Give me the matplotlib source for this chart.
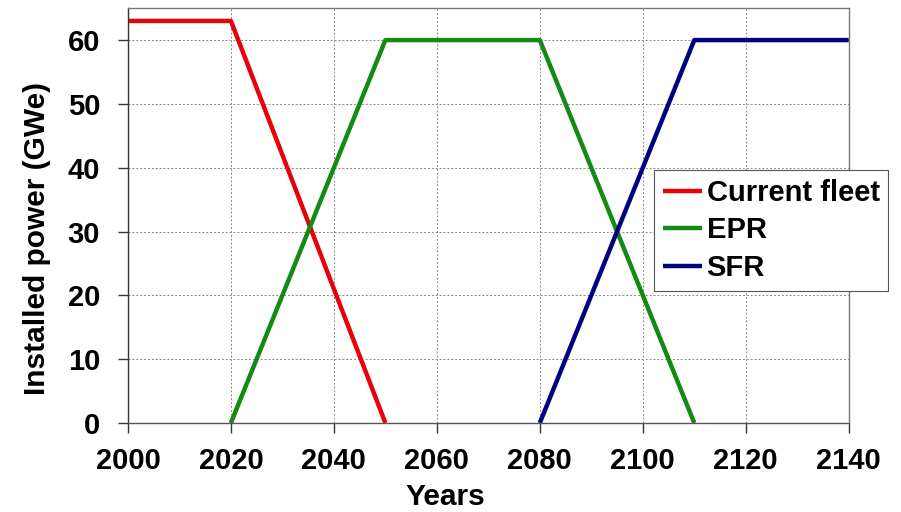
import matplotlib
matplotlib.use("Agg")
import matplotlib.pyplot as plt

plt.rcParams['font.family'] = ['Liberation Sans', 'DejaVu Sans']
plt.rcParams['font.weight'] = 'bold'

years_fleet = [2000, 2020, 2050]
fleet = [63, 63, 0]
years_epr = [2020, 2050, 2080, 2110]
epr = [0, 60, 60, 0]
years_sfr = [2080, 2110, 2140]
sfr = [0, 60, 60]
xticks = [2000, 2020, 2040, 2060, 2080, 2100, 2120, 2140]
yticks = [0, 10, 20, 30, 40, 50, 60]

fig = plt.figure(figsize=(9.01, 5.12), dpi=100)
ax = fig.add_axes([0.142, 0.174, 0.8, 0.81])
ax.plot(years_fleet, fleet, color='#e8000b', lw=3.2, label='Current fleet', solid_capstyle='butt')
ax.plot(years_epr, epr, color='#138a13', lw=3.2, label='EPR', solid_capstyle='butt')
ax.plot(years_sfr, sfr, color='#000080', lw=3.2, label='SFR', solid_capstyle='butt')
ax.set_xlim(2000, 2140)
ax.set_ylim(0, 65)
ax.set_xticks(xticks)
ax.set_yticks(yticks)
ax.grid(True, color='#888888', linestyle=(0, (2, 2)), linewidth=0.7)
ax.tick_params(axis='both', labelsize=21, length=7, width=1, color='#333333')
ax.tick_params(axis='y', pad=13)
ax.tick_params(axis='x', pad=10)
for lab in ax.get_xticklabels() + ax.get_yticklabels():
    lab.set_fontweight('bold')
for s in ax.spines.values():
    s.set_color('#777777')
    s.set_linewidth(1)
ax.spines['left'].set_color('#333333')
ax.spines['bottom'].set_color('#555555')
ax.set_xlabel('Years', fontsize=21.5, fontweight='bold')
ax.set_ylabel('Installed power (GWe)', fontsize=21.5, fontweight='bold')
ax.xaxis.set_label_coords(0.441, -0.178)
ax.xaxis.label.set_va('center')
ax.yaxis.set_label_coords(-0.126, 0.445)
ax.yaxis.label.set_va('center')
leg = ax.legend(loc='upper left', bbox_to_anchor=(0.7295, 0.6096), fontsize=21,
                handlelength=1.34, handletextpad=0.17, borderpad=0.3, labelspacing=0.33,
                borderaxespad=0, fancybox=False, framealpha=1, edgecolor='#555555')
for t in leg.get_texts():
    t.set_fontweight('bold')
leg.get_frame().set_linewidth(0.8)
fig.savefig('out.png', dpi=100)
